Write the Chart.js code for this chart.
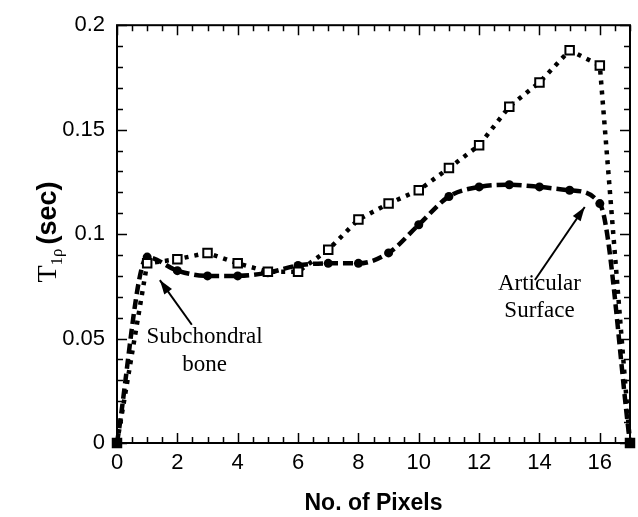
<!DOCTYPE html>
<html>
<head>
<meta charset="utf-8">
<script src="https://cdn.jsdelivr.net/npm/chart.js@4"></script>
<style>
  body { margin: 0; background: #fff; }
</style>
</head>
<body>
<canvas id="myChart" width="638" height="517"></canvas>
<script>
// data
const pixels = [0, 1, 2, 3, 4, 5, 6, 7, 8, 9, 10, 11, 12, 13, 14, 15, 16, 17];
const squareT1rho = [0, 0.086, 0.088, 0.091, 0.086, 0.082, 0.082, 0.0925, 0.107, 0.1146, 0.121, 0.1316, 0.1425, 0.161, 0.1726, 0.188, 0.1807, 0];
const circleT1rho = [0, 0.089, 0.0825, 0.080, 0.080, 0.0815, 0.085, 0.086, 0.086, 0.091, 0.1045, 0.118, 0.1226, 0.1236, 0.1226, 0.121, 0.1146, 0];
const xTickLabels = [0, 2, 4, 6, 8, 10, 12, 14, 16];
const yTickLabels = [0, 0.05, 0.1, 0.15, 0.2];

const toPoints = (ys) => pixels.map((x, i) => ({ x: x, y: ys[i] }));
const endFill = (ctx) => (ctx.dataIndex === 0 || ctx.dataIndex === pixels.length - 1) ? '#000' : '#fff';

// inward ticks on all four sides + frame, y-title, annotations
const decorPlugin = {
  id: 'decor',
  afterDraw(chart) {
    const ctx = chart.ctx;
    const xs = chart.scales.x, ys = chart.scales.y;
    const a = chart.chartArea;
    ctx.save();
    ctx.strokeStyle = '#000';
    ctx.lineWidth = 2;
    ctx.strokeRect(a.left, a.top, a.right - a.left, a.bottom - a.top);
    ctx.lineWidth = 1.5;
    ctx.beginPath();
    for (let i = 0; i <= 20; i++) {
      const py = Math.round(ys.getPixelForValue(i * 0.01)) + 0.5;
      const len = i % 5 === 0 ? 10 : 6;
      ctx.moveTo(a.left, py); ctx.lineTo(a.left + len, py);
      ctx.moveTo(a.right, py); ctx.lineTo(a.right - len, py);
    }
    for (let i = 0; i <= 34; i++) {
      const px = Math.round(xs.getPixelForValue(i * 0.5)) + 0.5;
      const len = (i % 4 === 0) ? 10 : 6;
      ctx.moveTo(px, a.bottom); ctx.lineTo(px, a.bottom - len);
      ctx.moveTo(px, a.top); ctx.lineTo(px, a.top + len);
    }
    ctx.stroke();

    // y axis title: T1rho (sec)
    ctx.save();
    ctx.translate(46, 232);
    ctx.rotate(-Math.PI / 2);
    ctx.fillStyle = '#000';
    ctx.textBaseline = 'alphabetic';
    ctx.font = '28px "Liberation Serif"';
    const wT = ctx.measureText('T').width;
    ctx.font = '17px "Liberation Serif"';
    const wS = ctx.measureText('1ρ').width;
    ctx.font = 'bold 27px "Liberation Sans"';
    const wP = ctx.measureText('(sec)').width;
    let x0 = -(wT + wS + 4 + wP) / 2;
    ctx.font = '28px "Liberation Serif"';
    ctx.fillText('T', x0, 10);
    ctx.font = '17px "Liberation Serif"';
    ctx.fillText('1ρ', x0 + wT, 16);
    ctx.font = 'bold 27px "Liberation Sans"';
    ctx.fillText('(sec)', x0 + wT + wS + 4, 10);
    ctx.restore();

    // annotations
    ctx.fillStyle = '#000';
    ctx.font = '23px "Liberation Serif"';
    ctx.textAlign = 'center';
    ctx.textBaseline = 'middle';
    ctx.fillText('Subchondral', xs.getPixelForValue(2.9), ys.getPixelForValue(0.051));
    ctx.fillText('bone', xs.getPixelForValue(2.9), ys.getPixelForValue(0.0375));
    ctx.fillText('Articular', xs.getPixelForValue(14.0), ys.getPixelForValue(0.076));
    ctx.fillText('Surface', xs.getPixelForValue(14.0), ys.getPixelForValue(0.063));

    const arrow = (x1, y1, x2, y2) => {
      const p1 = [xs.getPixelForValue(x1), ys.getPixelForValue(y1)];
      const p2 = [xs.getPixelForValue(x2), ys.getPixelForValue(y2)];
      const ang = Math.atan2(p2[1] - p1[1], p2[0] - p1[0]);
      ctx.lineWidth = 2;
      ctx.beginPath();
      ctx.moveTo(p1[0], p1[1]); ctx.lineTo(p2[0], p2[1]);
      ctx.stroke();
      ctx.beginPath();
      ctx.moveTo(p2[0], p2[1]);
      ctx.lineTo(p2[0] - 15 * Math.cos(ang - 0.32), p2[1] - 15 * Math.sin(ang - 0.32));
      ctx.lineTo(p2[0] - 15 * Math.cos(ang + 0.32), p2[1] - 15 * Math.sin(ang + 0.32));
      ctx.closePath();
      ctx.fill();
    };
    arrow(2.48, 0.0566, 1.42, 0.078);
    arrow(13.85, 0.078, 15.5, 0.113);
    ctx.restore();
  }
};

const config = {
  type: 'scatter',
  data: {
    datasets: [
      {
        label: 'squares',
        data: toPoints(squareT1rho),
        showLine: true,
        borderColor: '#000',
        borderWidth: 4.5,
        borderDash: [4, 6],
        pointStyle: 'rect',
        pointRadius: 6,
        pointBorderWidth: 2,
        pointBorderColor: '#000',
        pointBackgroundColor: endFill,
        clip: false
      },
      {
        label: 'circles',
        data: toPoints(circleT1rho),
        showLine: true,
        cubicInterpolationMode: 'monotone',
        borderColor: '#000',
        borderWidth: 4.5,
        borderDash: [10, 5],
        pointStyle: 'circle',
        pointRadius: 4.5,
        pointBorderWidth: 0,
        pointBackgroundColor: '#000',
        clip: false
      }
    ]
  },
  options: {
    responsive: false,
    animation: false,
    layout: { padding: { left: 0, right: 8, top: 19, bottom: 0 } },
    plugins: {
      legend: { display: false },
      tooltip: { enabled: false }
    },
    scales: {
      x: {
        type: 'linear',
        min: 0,
        max: 17,
        afterBuildTicks: (s) => { s.ticks = xTickLabels.map(v => ({ value: v })); },
        afterFit: (s) => { s.height = 74; },
        grid: { display: false, drawTicks: false },
        border: { display: false },
        ticks: {
          color: '#000',
          padding: 7,
          maxRotation: 0,
          font: { family: '"Liberation Sans"', size: 22 }
        },
        title: {
          display: true,
          text: 'No. of Pixels',
          color: '#000',
          padding: { top: 10, bottom: 0 },
          font: { family: '"Liberation Sans"', size: 23, weight: 'bold' }
        }
      },
      y: {
        type: 'linear',
        min: 0,
        max: 0.2,
        afterBuildTicks: (s) => { s.ticks = yTickLabels.map(v => ({ value: v })); },
        afterFit: (s) => { s.width = 117; },
        grid: { display: false, drawTicks: false },
        border: { display: false },
        ticks: {
          color: '#000',
          padding: 12,
          callback: (v) => String(v),
          font: { family: '"Liberation Sans"', size: 22 }
        }
      }
    }
  },
  plugins: [decorPlugin]
};

const ctx = document.getElementById('myChart').getContext('2d');
const myChart = new Chart(ctx, config);
</script>
</body>
</html>
